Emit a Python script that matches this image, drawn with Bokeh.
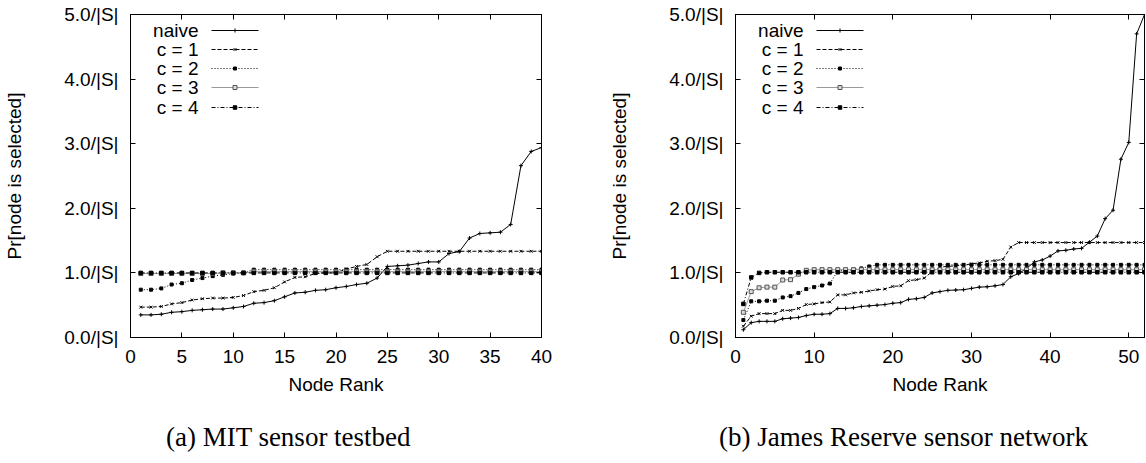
from bokeh.plotting import figure
from bokeh.models import Range1d, LinearAxis, FixedTicker
from bokeh.layouts import column, row
from bokeh.embed import file_html
from bokeh.resources import INLINE
from bokeh.core.properties import value

# ---------------- data ----------------
rank_a = list(range(1, 41))
naive_a = [0.35, 0.35, 0.36, 0.39, 0.40, 0.42, 0.43, 0.44, 0.44, 0.46,
           0.48, 0.53, 0.54, 0.57, 0.63, 0.69, 0.70, 0.73, 0.74, 0.77,
           0.79, 0.82, 0.84, 0.92, 1.10, 1.11, 1.12, 1.145, 1.17, 1.17,
           1.30, 1.33, 1.54, 1.61, 1.62, 1.63, 1.75, 2.66, 2.88, 2.94]
c1_a = [0.47, 0.47, 0.48, 0.52, 0.54, 0.58, 0.60, 0.61, 0.61, 0.62,
        0.65, 0.71, 0.73, 0.77, 0.86, 0.93, 0.94, 0.99, 1.00, 1.00,
        1.06, 1.10, 1.13, 1.25, 1.335, 1.335, 1.335, 1.335, 1.335, 1.335,
        1.335, 1.335, 1.335, 1.335, 1.335, 1.335, 1.335, 1.335, 1.335, 1.335]
c2_a = [0.74, 0.74, 0.76, 0.82, 0.84, 0.89, 0.92, 0.95, 0.97, 0.99,
        1.00, 1.05, 1.05, 1.05, 1.05, 1.05, 1.05, 1.05, 1.05, 1.05,
        1.05, 1.05, 1.05, 1.05, 1.05, 1.05, 1.05, 1.05, 1.05, 1.05,
        1.05, 1.05, 1.05, 1.05, 1.05, 1.05, 1.05, 1.05, 1.05, 1.05]
c3_a = [0.99, 0.99, 0.99, 0.99, 0.99, 0.99, 0.99, 0.99, 1.00, 1.00,
        1.00, 1.02, 1.02, 1.02, 1.02, 1.02, 1.02, 1.02, 1.02, 1.02,
        1.02, 1.02, 1.02, 1.02, 1.02, 1.02, 1.02, 1.02, 1.02, 1.02,
        1.02, 1.02, 1.02, 1.02, 1.02, 1.02, 1.02, 1.02, 1.02, 1.02]
c4_a = [1.00, 1.00, 1.00, 1.00, 1.00, 1.00, 1.00, 1.00, 1.00, 1.00,
        1.00, 1.00, 1.00, 1.00, 1.00, 1.00, 1.00, 1.00, 1.00, 1.00,
        1.00, 1.00, 1.00, 1.00, 1.00, 1.00, 1.00, 1.00, 1.00, 1.00,
        1.00, 1.00, 1.00, 1.00, 1.00, 1.00, 1.00, 1.00, 1.00, 1.00]

rank_b = list(range(1, 53))
naive_b = [0.12, 0.23, 0.25, 0.25, 0.25, 0.29, 0.30, 0.31, 0.34, 0.36,
           0.36, 0.37, 0.45, 0.45, 0.46, 0.48, 0.49, 0.50, 0.51, 0.53,
           0.54, 0.59, 0.60, 0.62, 0.69, 0.71, 0.73, 0.735, 0.74, 0.76,
           0.78, 0.785, 0.80, 0.82, 0.94, 0.99, 1.07, 1.17, 1.20, 1.26,
           1.34, 1.35, 1.37, 1.38, 1.475, 1.57, 1.84, 1.97, 2.76, 3.02,
           4.70, 5.00]
c1_b = [0.175, 0.33, 0.37, 0.37, 0.37, 0.42, 0.42, 0.45, 0.51, 0.52,
        0.54, 0.55, 0.66, 0.66, 0.69, 0.70, 0.72, 0.74, 0.75, 0.79,
        0.80, 0.88, 0.895, 0.92, 1.02, 1.09, 1.10, 1.11, 1.12, 1.14,
        1.155, 1.18, 1.19, 1.21, 1.40, 1.47, 1.47, 1.47, 1.47, 1.47,
        1.47, 1.47, 1.47, 1.47, 1.47, 1.47, 1.47, 1.47, 1.47, 1.47,
        1.47, 1.47]
c2_b = [0.27, 0.56, 0.56, 0.57, 0.57, 0.62, 0.64, 0.69, 0.75, 0.78,
        0.805, 0.835, 1.03, 1.04, 1.05, 1.07, 1.10, 1.125, 1.125, 1.125,
        1.125, 1.125, 1.125, 1.125, 1.125, 1.125, 1.125, 1.125, 1.125, 1.125,
        1.125, 1.125, 1.125, 1.125, 1.125, 1.125, 1.125, 1.125, 1.125, 1.125,
        1.125, 1.125, 1.125, 1.125, 1.125, 1.125, 1.125, 1.125, 1.125, 1.125,
        1.125, 1.125]
c3_b = [0.39, 0.71, 0.77, 0.78, 0.78, 0.89, 0.895, 0.98, 1.04, 1.05,
        1.05, 1.05, 1.05, 1.05, 1.05, 1.05, 1.05, 1.05, 1.05, 1.05,
        1.05, 1.05, 1.05, 1.05, 1.05, 1.05, 1.05, 1.05, 1.05, 1.05,
        1.05, 1.05, 1.05, 1.05, 1.05, 1.05, 1.05, 1.05, 1.05, 1.05,
        1.05, 1.05, 1.05, 1.05, 1.05, 1.05, 1.05, 1.05, 1.05, 1.05,
        1.05, 1.05]
c4_b = [0.52, 0.93, 1.00, 1.01, 1.01, 1.01, 1.01, 1.01, 1.01, 1.01,
        1.01, 1.01, 1.01, 1.01, 1.01, 1.01, 1.01, 1.01, 1.01, 1.01,
        1.01, 1.01, 1.01, 1.01, 1.01, 1.01, 1.01, 1.01, 1.01, 1.01,
        1.01, 1.01, 1.01, 1.01, 1.01, 1.01, 1.01, 1.01, 1.01, 1.01,
        1.01, 1.01, 1.01, 1.01, 1.01, 1.01, 1.01, 1.01, 1.01, 1.01,
        1.01, 1.01]

series_names = ["naive", "c = 1", "c = 2", "c = 3", "c = 4"]
x_ticks_a = [0, 5, 10, 15, 20, 25, 30, 35, 40]
x_ticks_b = [0, 10, 20, 30, 40, 50]
y_ticks = [0, 1, 2, 3, 4, 5]
y_tick_labels = ["0.0/|S|", "1.0/|S|", "2.0/|S|", "3.0/|S|", "4.0/|S|", "5.0/|S|"]
x_label = "Node Rank"
y_label = "Pr[node is selected]"
caption_a = "(a) MIT sensor testbed"
caption_b = "(b) James Reserve sensor network"

# ---------------- styles ----------------
SANS = "Liberation Sans"
SERIF = "Liberation Serif"
STYLES = [
    dict(color="black", dash="solid", marker="cross", size=4, fill="black", mline="black"),
    dict(color="black", dash="4 2", marker="x", size=4, fill="black", mline="black"),
    dict(color="black", dash="1 2", marker="square", size=3, fill="black", mline="black"),
    dict(color="#999999", dash="solid", marker="square", size=4, fill="#dddddd", mline="#555555"),
    dict(color="black", dash="4 2 1 2", marker="square", size=3.5, fill="black", mline="black"),
]
FRAME_H = 323


def style_axis(ax, ticks):
    ax.ticker = FixedTicker(ticks=ticks)
    ax.major_tick_in = 5
    ax.major_tick_out = 0
    ax.minor_tick_line_color = None
    ax.axis_line_color = "black"
    ax.major_tick_line_color = "black"
    ax.major_label_text_color = "black"
    ax.major_label_text_font = SANS
    ax.major_label_text_font_size = "19px"
    ax.axis_label_text_color = "black"
    ax.axis_label_text_font = SANS
    ax.axis_label_text_font_size = "19px"
    ax.axis_label_text_font_style = "normal"


def make_panel(xs, series, x_end, x_ticks, frame_w, border_left, border_right):
    p = figure(frame_width=frame_w, frame_height=FRAME_H,
               x_range=Range1d(0, x_end), y_range=Range1d(0, 5),
               output_backend="svg", toolbar_location=None,
               min_border_left=border_left, min_border_right=border_right,
               min_border_top=14, min_border_bottom=64,
               x_axis_label=x_label, y_axis_label=y_label)
    p.grid.visible = False
    p.outline_line_color = "black"
    p.outline_line_width = 1
    p.background_fill_color = "white"
    p.border_fill_color = "white"

    style_axis(p.xaxis[0], x_ticks)
    style_axis(p.yaxis[0], y_ticks)
    p.yaxis[0].major_label_overrides = dict(zip(y_ticks, y_tick_labels))
    p.xaxis[0].major_label_standoff = 12
    p.xaxis[0].axis_label_standoff = 8
    p.yaxis[0].major_label_standoff = 12
    p.yaxis[0].axis_label_standoff = 36

    for loc, ticks in (("above", x_ticks), ("right", y_ticks)):
        ax = LinearAxis()
        style_axis(ax, ticks)
        ax.major_label_text_font_size = "0px"
        ax.major_label_standoff = 0
        ax.major_label_overrides = {t: "" for t in ticks}
        p.add_layout(ax, loc)

    for ys, st in zip(series, STYLES):
        p.line(xs, ys, line_color=st["color"], line_dash=st["dash"], line_width=1)
        p.scatter(xs, ys, marker=st["marker"], size=st["size"],
                  fill_color=st["fill"], line_color=st["mline"], line_width=1)

    # legend (key placed at fixed pixel offsets inside the frame)
    sx = x_end / frame_w
    sy = 5.0 / FRAME_H
    rows_px = [16, 35, 54, 73, 93]
    for name, st, rpx in zip(series_names, STYLES, rows_px):
        yv = 5 - rpx * sy
        p.text(x=[68 * sx], y=[yv], text=[name], text_align="right",
               text_baseline="middle", text_font=value(SANS),
               text_font_size="19px", text_color="black")
        p.line([81 * sx, 128 * sx], [yv, yv], line_color=st["color"],
               line_dash=st["dash"], line_width=1)
        p.scatter([104.5 * sx], [yv], marker=st["marker"], size=st["size"],
                  fill_color=st["fill"], line_color=st["mline"], line_width=1)
    return p


p1 = make_panel(rank_a, [naive_a, c1_a, c2_a, c3_a, c4_a], 40, x_ticks_a, 411, 130, 59)
p2 = make_panel(rank_b, [naive_b, c1_b, c2_b, c3_b, c4_b], 52, x_ticks_b, 409, 135, 1)

cap = figure(frame_width=1145, frame_height=61, x_range=Range1d(0, 1145),
             y_range=Range1d(0, 61), min_border=0, x_axis_type=None,
             y_axis_type=None, toolbar_location=None, output_backend="svg")
cap.grid.visible = False
cap.outline_line_color = None
cap.text(x=[288, 903], y=[26, 26], text=[caption_a, caption_b],
         text_align="center", text_baseline="middle",
         text_font=value(SERIF), text_font_size="27px", text_color="black")

layout = column(row(p1, p2), cap)
open("out.html", "w").write(file_html(layout, INLINE))
